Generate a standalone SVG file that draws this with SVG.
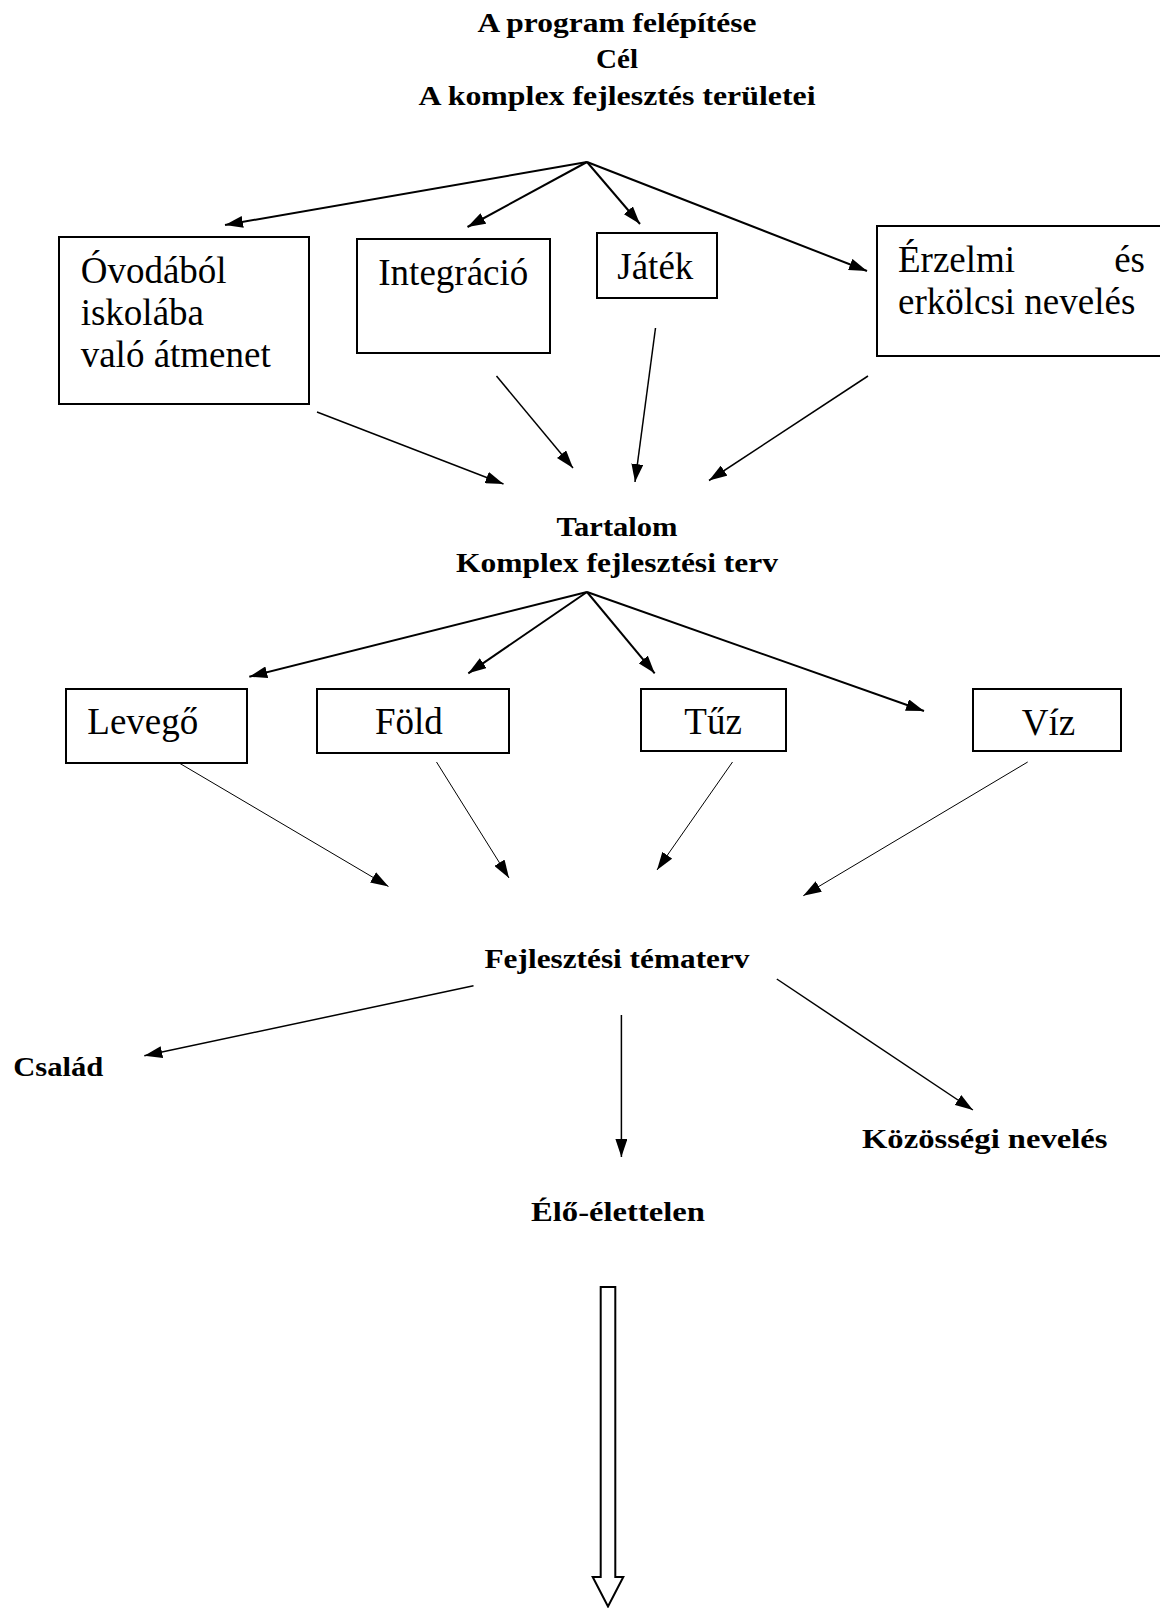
<svg xmlns="http://www.w3.org/2000/svg" width="1160" height="1608" viewBox="0 0 1160 1608">
<defs>
<style>
.t{font-family:"Liberation Serif","Times New Roman",serif;font-weight:bold;font-size:28px;fill:#000}
.b{font-family:"Liberation Serif","Times New Roman",serif;font-size:37px;fill:#000}
.box{fill:#fff;stroke:#000;stroke-width:2}
.c2{stroke:#000;stroke-width:2;fill:none;marker-end:url(#ah)}
.c15{stroke:#000;stroke-width:1.5;fill:none;marker-end:url(#ah)}
.c1{stroke:#000;stroke-width:1;fill:none;marker-end:url(#ah)}
</style>
<marker id="ah" viewBox="0 0 18 12" refX="18" refY="6" markerWidth="18" markerHeight="12" markerUnits="userSpaceOnUse" orient="auto">
<path d="M0,0 L18,6 L0,12 z" fill="#000"/>
</marker>
</defs>
<rect width="1160" height="1608" fill="#fff"/>

<g id="title">
<text class="t" x="617" y="32" text-anchor="middle" textLength="279" lengthAdjust="spacingAndGlyphs">A program felépítése</text>
<text class="t" x="617" y="68" text-anchor="middle" textLength="42" lengthAdjust="spacingAndGlyphs">Cél</text>
<text class="t" x="617" y="105" text-anchor="middle" textLength="397" lengthAdjust="spacingAndGlyphs">A komplex fejlesztés területei</text>
</g>

<g id="node-ovoda">
<rect class="box" x="59" y="237" width="250" height="167"/>
<text class="b" x="80.7" y="283">Óvodából</text>
<text class="b" x="80.7" y="325">iskolába</text>
<text class="b" x="80.7" y="367">való átmenet</text>
</g>
<g id="node-integracio">
<rect class="box" x="357" y="239" width="193" height="114"/>
<text class="b" x="378.3" y="285">Integráció</text>
</g>
<g id="node-jatek">
<rect class="box" x="597" y="233" width="120" height="65"/>
<text class="b" x="617.3" y="279">Játék</text>
</g>
<g id="node-erzelmi">
<rect class="box" x="877" y="226" width="300" height="130"/>
<text class="b" x="898" y="272">Érzelmi</text>
<text class="b" x="1145" y="272" text-anchor="end">és</text>
<text class="b" x="898" y="314">erkölcsi nevelés</text>
</g>

<g id="node-tartalom">
<text class="t" x="617" y="536" text-anchor="middle" textLength="121" lengthAdjust="spacingAndGlyphs">Tartalom</text>
<text class="t" x="617" y="572" text-anchor="middle" textLength="322" lengthAdjust="spacingAndGlyphs">Komplex fejlesztési terv</text>
</g>

<g id="node-levego">
<rect class="box" x="66" y="689" width="181" height="74"/>
<text class="b" x="87.3" y="733.5">Levegő</text>
</g>
<g id="node-fold">
<rect class="box" x="317" y="689" width="192" height="64"/>
<text class="b" x="375" y="734">Föld</text>
</g>
<g id="node-tuz">
<rect class="box" x="641" y="689" width="145" height="62"/>
<text class="b" x="684.3" y="734">Tűz</text>
</g>
<g id="node-viz">
<rect class="box" x="973" y="689" width="148" height="62"/>
<text class="b" x="1021.7" y="735">Víz</text>
</g>

<g id="node-tematerv">
<text class="t" x="617" y="968" text-anchor="middle" textLength="265" lengthAdjust="spacingAndGlyphs">Fejlesztési tématerv</text>
</g>
<g id="node-csalad">
<text class="t" x="13.3" y="1076" textLength="90" lengthAdjust="spacingAndGlyphs">Család</text>
</g>
<g id="node-kozossegi">
<text class="t" x="862" y="1148" textLength="245.5" lengthAdjust="spacingAndGlyphs">Közösségi nevelés</text>
</g>
<g id="node-elo">
<text class="t" x="618" y="1221" text-anchor="middle" textLength="174" lengthAdjust="spacingAndGlyphs">Élő-élettelen</text>
</g>

<g id="connectors">
<line class="c2" x1="587" y1="162" x2="225" y2="225"/>
<line class="c2" x1="587" y1="162" x2="467.5" y2="227"/>
<line class="c2" x1="587" y1="162" x2="640" y2="224"/>
<line class="c2" x1="587" y1="162" x2="867" y2="271"/>

<line class="c15" x1="317" y1="412" x2="503.5" y2="484"/>
<line class="c15" x1="496.5" y1="376" x2="573" y2="468"/>
<line class="c15" x1="655.5" y1="328" x2="635" y2="482"/>
<line class="c15" x1="868" y1="376" x2="709" y2="480.5"/>

<line class="c2" x1="587" y1="592" x2="249.3" y2="676.7"/>
<line class="c2" x1="587" y1="592" x2="468.3" y2="673.3"/>
<line class="c2" x1="587" y1="592" x2="654.7" y2="673.3"/>
<line class="c2" x1="587" y1="592" x2="924" y2="711"/>

<line class="c1" x1="180" y1="763.5" x2="388.5" y2="886.5"/>
<line class="c1" x1="436.5" y1="762" x2="509" y2="878"/>
<line class="c1" x1="732.5" y1="762" x2="657" y2="870"/>
<line class="c1" x1="1027.7" y1="762" x2="803.3" y2="895.7"/>

<line class="c15" x1="473.5" y1="985.8" x2="144.3" y2="1055.8"/>
<line class="c15" x1="621.4" y1="1015" x2="621.4" y2="1157"/>
<line class="c15" x1="776.8" y1="979" x2="972.9" y2="1110"/>

<polygon points="600.7,1287 615.3,1287 615.3,1577 623.3,1577 608,1606.5 592.7,1577 600.7,1577" fill="#fff" stroke="#000" stroke-width="2"/>
</g>
</svg>
